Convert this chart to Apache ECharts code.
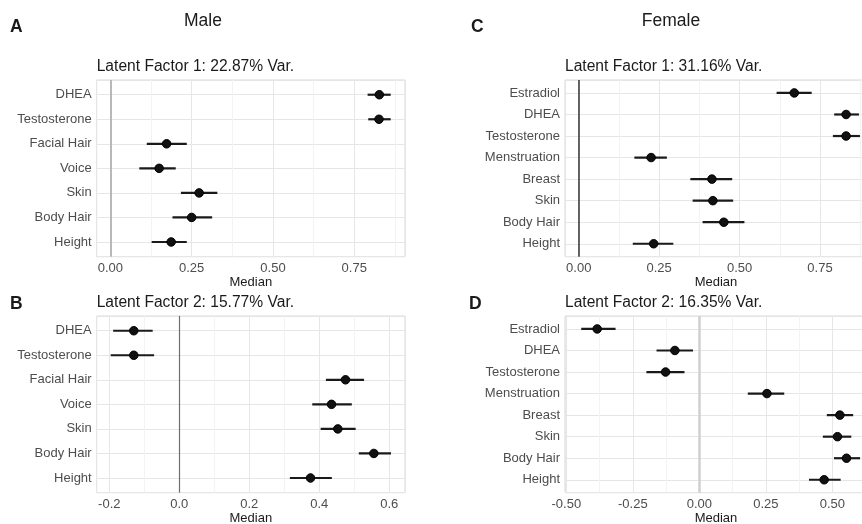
<!DOCTYPE html>
<html>
<head>
<meta charset="utf-8">
<script src="https://cdn.jsdelivr.net/npm/echarts@6/dist/echarts.min.js"></script>
<style>
  html, body { margin: 0; padding: 0; background: #fff; }
  #main { width: 862px; height: 524px; }
</style>
</head>
<body>
<div id="main"></div>
<script>
// categories
var maleCats = ['DHEA', 'Testosterone', 'Facial Hair', 'Voice', 'Skin', 'Body Hair', 'Height'];
var femaleCats = ['Estradiol', 'DHEA', 'Testosterone', 'Menstruation', 'Breast', 'Skin', 'Body Hair', 'Height'];

// Male, latent factor 1
var male1Median = [0.827, 0.826, 0.173, 0.150, 0.273, 0.250, 0.187];
var male1Low    = [0.791, 0.793, 0.112, 0.089, 0.217, 0.191, 0.127];
var male1High   = [0.862, 0.862, 0.235, 0.201, 0.329, 0.313, 0.235];

// Male, latent factor 2
var male2Median = [-0.130, -0.130, 0.475, 0.435, 0.453, 0.556, 0.375];
var male2Low    = [-0.189, -0.196, 0.419, 0.380, 0.404, 0.513, 0.316];
var male2High   = [-0.076, -0.072, 0.528, 0.493, 0.504, 0.605, 0.436];

// Female, latent factor 1
var female1Median = [0.670, 0.831, 0.831, 0.225, 0.414, 0.417, 0.451, 0.233];
var female1Low    = [0.615, 0.794, 0.790, 0.173, 0.347, 0.354, 0.385, 0.168];
var female1High   = [0.724, 0.871, 0.874, 0.274, 0.477, 0.480, 0.515, 0.294];

// Female, latent factor 2
var female2Median = [-0.384, -0.092, -0.127, 0.254, 0.528, 0.519, 0.553, 0.469];
var female2Low    = [-0.444, -0.161, -0.199, 0.182, 0.479, 0.464, 0.506, 0.412];
var female2High   = [-0.315, -0.024, -0.056, 0.319, 0.578, 0.571, 0.604, 0.531];

// titles
var panelTitles = ['Latent Factor 1: 22.87% Var.', 'Latent Factor 2: 15.77% Var.',
                   'Latent Factor 1: 31.16% Var.', 'Latent Factor 2: 16.35% Var.'];

var FONT = 'Liberation Sans, Arial, sans-serif';

// panel layout
var panels = [
  { cats: maleCats, med: male1Median, lo: male1Low, hi: male1High,
    left: 96.7, top: 80, width: 308.3, min: -0.042, max: 0.906, step: 0.25, dec: 2,
    zero: { color: '#b8b8b8', width: 2 } },
  { cats: maleCats, med: male2Median, lo: male2Low, hi: male2High,
    left: 96.7, top: 316, width: 308.3, min: -0.236, max: 0.645, step: 0.2, dec: 1,
    zero: { color: '#6e6e6e', width: 1.2 } },
  { cats: femaleCats, med: female1Median, lo: female1Low, hi: female1High,
    left: 565, top: 80, width: 302, min: -0.0426, max: 0.896, step: 0.25, dec: 2,
    zero: { color: '#333333', width: 1.5 } },
  { cats: femaleCats, med: female2Median, lo: female2Low, hi: female2High,
    left: 565, top: 316, width: 302, min: -0.505, max: 0.63, step: 0.25, dec: 2,
    zero: { color: '#cfcfcf', width: 2.5 } }
];

function onStep(v, step) {
  var r = v / step;
  return Math.abs(r - Math.round(r)) < 1e-6;
}

var grid = [], xAxis = [], yAxis = [], series = [];

panels.forEach(function (p, g) {
  grid.push({
    left: p.left, top: p.top, width: p.width, height: 176.7,
    outerBoundsMode: 'none', containLabel: false,
    show: true, borderColor: '#d9d9d9', borderWidth: 1
  });

  // minor vertical grid
  xAxis.push({
    gridIndex: g, type: 'value', position: 'bottom', min: p.min, max: p.max,
    minInterval: p.step / 2, maxInterval: p.step / 2,
    axisLine: { show: false }, axisTick: { show: false }, axisLabel: { show: false },
    splitLine: { show: true, lineStyle: { color: '#f3f3f3', width: 1 } }
  });
  // major vertical grid + labels
  xAxis.push({
    gridIndex: g, type: 'value', position: 'bottom', min: p.min, max: p.max,
    minInterval: p.step, maxInterval: p.step,
    axisLine: { show: false }, axisTick: { show: false },
    axisLabel: {
      color: '#4d4d4d', fontSize: 13, fontFamily: FONT, margin: 5,
      formatter: (function (step, dec) {
        return function (v) { return onStep(v, step) ? v.toFixed(dec) : ''; };
      })(p.step, p.dec)
    },
    splitLine: { show: true, lineStyle: { color: '#e6e6e6', width: 1 } },
    name: 'Median', nameLocation: 'middle', nameGap: 19,
    nameTextStyle: { color: '#1a1a1a', fontSize: 13, fontFamily: FONT }
  });

  var n = p.cats.length;
  yAxis.push({
    gridIndex: g, type: 'value', inverse: true, min: -0.6, max: n - 0.4,
    minInterval: 1, maxInterval: 1,
    axisLine: { show: false }, axisTick: { show: false },
    axisLabel: {
      color: '#4d4d4d', fontSize: 13, fontFamily: FONT, margin: 5,
      formatter: (function (cats) {
        return function (v) { return onStep(v, 1) ? cats[Math.round(v)] : ''; };
      })(p.cats)
    },
    splitLine: { show: true, lineStyle: { color: '#e6e6e6', width: 1 } }
  });

  var barData = p.cats.map(function (c, i) { return [i, p.lo[i], p.hi[i]]; });
  var pointData = p.cats.map(function (c, i) { return [p.med[i], i]; });

  // error bars
  series.push({
    type: 'custom', xAxisIndex: 2 * g + 1, yAxisIndex: g, z: 3,
    data: barData, encode: { x: [1, 2], y: 0 }, clip: false,
    renderItem: function (params, api) {
      var y = api.value(0);
      var a = api.coord([api.value(1), y]);
      var b = api.coord([api.value(2), y]);
      return {
        type: 'line',
        shape: { x1: a[0], y1: a[1], x2: b[0], y2: b[1] },
        style: { stroke: '#1a1a1a', lineWidth: 2.2 }
      };
    }
  });

  // medians + zero line
  series.push({
    type: 'scatter', xAxisIndex: 2 * g + 1, yAxisIndex: g, z: 4,
    data: pointData, symbolSize: 8.5, clip: false,
    itemStyle: { color: '#111111', borderColor: '#000000', borderWidth: 1, opacity: 1 },
    markLine: {
      silent: true, symbol: 'none', label: { show: false },
      lineStyle: { color: p.zero.color, width: p.zero.width, type: 'solid' },
      data: [{ xAxis: 0 }]
    }
  });
});

function txt(s, x, y, size, bold, align) {
  return {
    type: 'text', x: x, y: y,
    style: {
      text: s, fill: '#1a1a1a',
      font: (bold ? 'bold ' : '') + size + 'px ' + FONT,
      align: align || 'center', textAlign: align || 'center',
      verticalAlign: 'middle', textVerticalAlign: 'middle'
    }
  };
}

var graphic = [
  txt('Male', 203, 21, 17.5, false),
  txt('Female', 671, 21, 17.5, false),
  txt('A', 10, 27, 17.5, true, 'left'),
  txt('B', 10, 304, 17.5, true, 'left'),
  txt('C', 471, 27, 17.5, true, 'left'),
  txt('D', 469, 304, 17.5, true, 'left'),
  txt(panelTitles[0], 96.7, 67, 15.6, false, 'left'),
  txt(panelTitles[1], 96.7, 303, 15.6, false, 'left'),
  txt(panelTitles[2], 565, 67, 15.6, false, 'left'),
  txt(panelTitles[3], 565, 303, 15.6, false, 'left')
];

var myChart = echarts.init(document.getElementById('main'), null, { renderer: 'canvas' });
myChart.setOption({
  animation: false,
  backgroundColor: '#ffffff',
  grid: grid,
  xAxis: xAxis,
  yAxis: yAxis,
  series: series,
  graphic: graphic
});
</script>
</body>
</html>
